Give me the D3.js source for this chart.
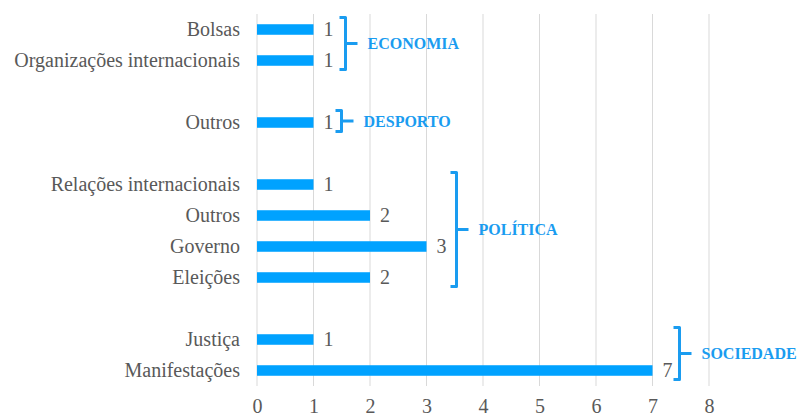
<!DOCTYPE html>
<html>
<head>
<meta charset="utf-8">
<script src="https://cdn.jsdelivr.net/npm/d3@7"></script>
<style>
  body { margin: 0; background: #fff; }
</style>
</head>
<body>
<div id="chart"></div>
<script>
const width = 803;
const height = 417;
const margin = {top: 14, right: 94, bottom: 31, left: 257};

const barColour = "#00a2ff";
const bracketColour = "#1a9cf0";
const textColour = "#595959";
const fontFamily = "Liberation Serif";

// data, top to bottom
const categories = ["Bolsas", "Organizações internacionais", "Outros", "Relações internacionais",
                    "Outros", "Governo", "Eleições", "Justiça", "Manifestações"];
const values = [1, 1, 1, 1, 2, 3, 2, 1, 7];
const groups = ["ECONOMIA", "ECONOMIA", "DESPORTO", "POLÍTICA", "POLÍTICA", "POLÍTICA", "POLÍTICA",
                "SOCIEDADE", "SOCIEDADE"];
const groupNames = ["ECONOMIA", "DESPORTO", "POLÍTICA", "SOCIEDADE"];
const bracketGap = [32, 28, 30, 27];
const xTicks = [0, 1, 2, 3, 4, 5, 6, 7, 8];

const rows = categories.map((c, i) => ({key: groups[i] + "|" + c, category: c, value: values[i], group: groups[i]}));

// band domain with an empty slot between groups
const slots = [];
groupNames.forEach((g, gi) => {
  if (gi > 0) slots.push("gap" + gi);
  rows.filter(r => r.group === g).forEach(r => slots.push(r.key));
});

const svg = d3.select("#chart").append("svg")
  .attr("width", width)
  .attr("height", height);

const xScale = d3.scaleLinear()
  .domain([0, 8])
  .range([margin.left, width - margin.right]);

const yScale = d3.scaleBand()
  .domain(slots)
  .range([margin.top, height - margin.bottom])
  .paddingInner(0.66)
  .paddingOuter(0.33);

// gridlines
svg.append("g")
  .selectAll("line")
  .data(xTicks)
  .join("line")
    .attr("x1", d => xScale(d))
    .attr("x2", d => xScale(d))
    .attr("y1", margin.top)
    .attr("y2", height - margin.bottom)
    .attr("stroke", "#d9d9d9")
    .attr("stroke-width", 1);

// x axis labels
const xAxis = g => g
  .attr("transform", `translate(0, ${height - margin.bottom})`)
  .call(d3.axisBottom(xScale).tickValues(xTicks).tickSize(0).tickPadding(13).tickFormat(d3.format("d")))
  .call(g => g.select(".domain").remove())
  .call(g => g.selectAll("text")
    .attr("font-family", fontFamily)
    .attr("font-size", 20)
    .attr("fill", textColour));

svg.append("g").call(xAxis);

// bars
svg.append("g")
  .selectAll("rect")
  .data(rows)
  .join("rect")
    .attr("x", xScale(0))
    .attr("y", d => yScale(d.key))
    .attr("width", d => xScale(d.value) - xScale(0))
    .attr("height", yScale.bandwidth())
    .attr("fill", barColour);

// category labels
svg.append("g")
  .selectAll("text")
  .data(rows)
  .join("text")
    .attr("x", xScale(0) - 17)
    .attr("y", d => yScale(d.key) + yScale.bandwidth() / 2)
    .attr("dy", "0.32em")
    .attr("text-anchor", "end")
    .attr("font-family", fontFamily)
    .attr("font-size", 20)
    .attr("fill", textColour)
    .text(d => d.category);

// value labels
svg.append("g")
  .selectAll("text")
  .data(rows)
  .join("text")
    .attr("x", d => xScale(d.value) + 10)
    .attr("y", d => yScale(d.key) + yScale.bandwidth() / 2)
    .attr("dy", "0.32em")
    .attr("font-family", fontFamily)
    .attr("font-size", 20)
    .attr("fill", textColour)
    .text(d => d.value);

// group brackets
groupNames.forEach((g, gi) => {
  const gr = rows.filter(r => r.group === g);
  const maxV = d3.max(gr, r => r.value);
  const bx = xScale(maxV) + bracketGap[gi];
  const top = yScale(gr[0].key) + yScale.bandwidth() / 2 - 12;
  const bottom = yScale(gr[gr.length - 1].key) + yScale.bandwidth() / 2 + 9;
  const mid = (top + bottom) / 2;

  const path = d3.path();
  path.moveTo(bx - 6, top);
  path.lineTo(bx, top);
  path.lineTo(bx, bottom);
  path.lineTo(bx - 6, bottom);
  path.moveTo(bx, mid);
  path.lineTo(bx + 12, mid);

  svg.append("path")
    .attr("d", path.toString())
    .attr("fill", "none")
    .attr("stroke", bracketColour)
    .attr("stroke-width", 3)
    .attr("stroke-linejoin", "round");

  svg.append("text")
    .attr("x", bx + 22)
    .attr("y", mid)
    .attr("dy", "0.35em")
    .attr("font-family", fontFamily)
    .attr("font-size", 16)
    .attr("font-weight", "bold")
    .attr("fill", bracketColour)
    .text(g);
});
</script>
</body>
</html>
